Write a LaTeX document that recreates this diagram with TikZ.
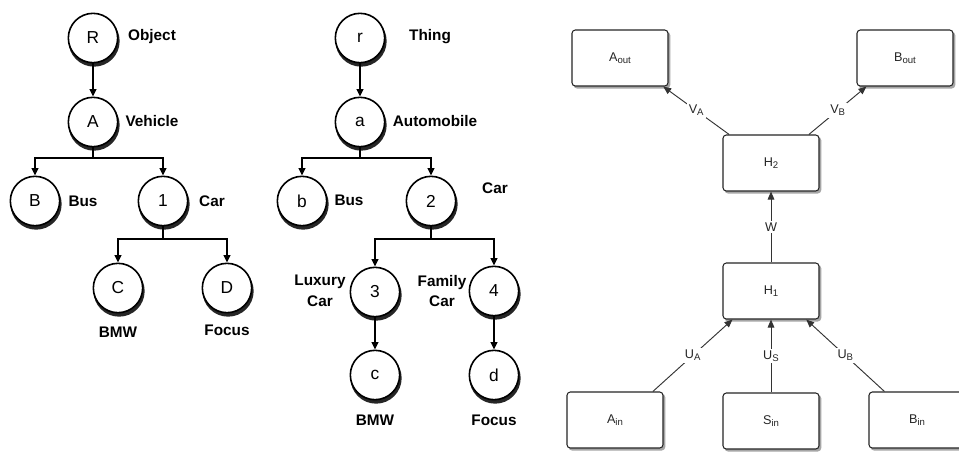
\documentclass[tikz,border=0pt]{standalone}
\usepackage{fontspec}
\setmainfont{Liberation Sans}
\usetikzlibrary{arrows.meta,backgrounds}
\newcommand\lowsub[1]{\raisebox{-0.3ex}{\fontsize{7.2}{8}\selectfont #1}}
\tikzset{
  circ/.style={circle,draw,line width=1.2pt,fill=white,minimum size=37pt,inner sep=0pt,
    font=\fontsize{13}{15}\selectfont},
  cshadow/.style={fill=black!85},
  lab/.style={font=\bfseries\fontsize{11.5}{15.5}\selectfont,align=center},
  tline/.style={line width=1.1pt},
  tarr/.style={line width=1.1pt,-{Triangle[length=5.5pt,width=5pt]}},
  box/.style={draw=black!85,rounded corners=2.5pt,line width=0.8pt,fill=white,
    minimum width=72pt,minimum height=42pt,inner sep=0pt,
    font=\fontsize{9.5}{11}\selectfont,text=black!85},
  bshadow/.style={fill=black!35,rounded corners=3pt},
  rarr/.style={draw=black!80,line width=0.7pt,-{Triangle[length=6pt,width=5pt]}},
  elab/.style={fill=white,inner sep=1.5pt,font=\fontsize{9.5}{11}\selectfont,text=black!85}
}
\begin{document}
\begin{tikzpicture}[x=0.75pt,y=-0.75pt]
\useasboundingbox (0,0) rectangle (959,451);

% ---- left tree
\node[circ] (R) at (93,38) {R};
\node[circ] (A) at (93,122) {A};
\node[circ] (B) at (35,201) {B};
\node[circ] (one) at (163,201) {1};
\node[circ] (C) at (118,288) {C};
\node[circ] (D) at (227,288) {D};
\node[lab] (lR) at (152,37) {Object};
\node[lab] (lA) at (152,121) {Vehicle};
\node[lab] (lB) at (83,201) {Bus};
\node[lab] (l1) at (212,201) {Car};
\node[lab] (lC) at (118,332) {BMW};
\node[lab] (lD) at (227,330) {Focus};
\draw[tarr] (R) -- (A);
\coordinate (jA) at (93,158);
\draw[tline] (A) -- (jA);
\draw[tarr] (jA) -| (B);
\draw[tarr] (jA) -| (one);
\coordinate (j1) at (163,239);
\draw[tline] (one) -- (j1);
\draw[tarr] (j1) -| (C);
\draw[tarr] (j1) -| (D);

% ---- middle tree
\node[circ] (r) at (360,38) {r};
\node[circ] (a) at (360,122) {a};
\node[circ] (b) at (302,201) {b};
\node[circ] (two) at (431,201) {2};
\node[circ] (three) at (375,292) {3};
\node[circ] (four) at (494,291) {4};
\node[circ] (c) at (375,375) {c};
\node[circ] (d) at (494,375) {d};
\node[lab] (lr) at (430,37) {Thing};
\node[lab] (la) at (435,121) {Automobile};
\node[lab] (lb) at (349,200) {Bus};
\node[lab] (l2) at (495,188) {Car};
\node[lab] (l3) at (320,291) {Luxury\\Car};
\node[lab] (l4) at (442,291) {Family\\Car};
\node[lab] (lc) at (375,420) {BMW};
\node[lab] (ld) at (494,420) {Focus};
\draw[tarr] (r) -- (a);
\coordinate (ja) at (360,158);
\draw[tline] (a) -- (ja);
\draw[tarr] (ja) -| (b);
\draw[tarr] (ja) -| (two);
\coordinate (j2) at (431,239);
\draw[tline] (two) -- (j2);
\draw[tarr] (j2) -| (three);
\draw[tarr] (j2) -| (four);
\draw[tarr] (three) -- (c);
\draw[tarr] (four) -- (d);

% ---- right network
\node[box] (Aout) at (620,58) {A\lowsub{out}};
\node[box] (Bout) at (905,58) {B\lowsub{out}};
\node[box] (H2) at (771,163) {H\lowsub{2}};
\node[box] (H1) at (771,291) {H\lowsub{1}};
\node[box] (Ain) at (615,420) {A\lowsub{in}};
\node[box] (Sin) at (771,421) {S\lowsub{in}};
\node[box] (Bin) at (917,420) {B\lowsub{in}};

\draw[rarr] ([xshift=5pt]H2.north west) -- node[elab] {V\lowsub{A}} ([xshift=-4pt]Aout.south east);
\draw[rarr] ([xshift=-8pt]H2.north east) -- node[elab] {V\lowsub{B}} ([xshift=7.5pt]Bout.south west);
\draw[rarr] (H1) -- node[elab] {W} (H2);
\draw[rarr] ([xshift=-8pt]Ain.north east) -- node[elab] {U\lowsub{A}} ([xshift=7.5pt]H1.south west);
\draw[rarr] (Sin) -- node[elab] {U\lowsub{S}} (H1);
\draw[rarr] ([xshift=12pt]Bin.north west) -- node[elab] {U\lowsub{B}} ([xshift=-10pt]H1.south east);

% ---- background and shadows
\begin{scope}[on background layer]
\fill[white] (0,0) rectangle (959,451);
\foreach \n in {R,A,B,one,C,D,r,a,b,two,three,four,c,d}
  \fill[cshadow] ([shift={(0.8pt,-2.3pt)}]\n.center) circle (19.2pt);
\foreach \n in {Aout,Bout,H2,H1,Ain,Sin,Bin}
  \fill[bshadow] ([shift={(1.4pt,-1.6pt)}]\n.south west) rectangle ([shift={(1.4pt,-1.6pt)}]\n.north east);
\end{scope}
\end{tikzpicture}
\end{document}
